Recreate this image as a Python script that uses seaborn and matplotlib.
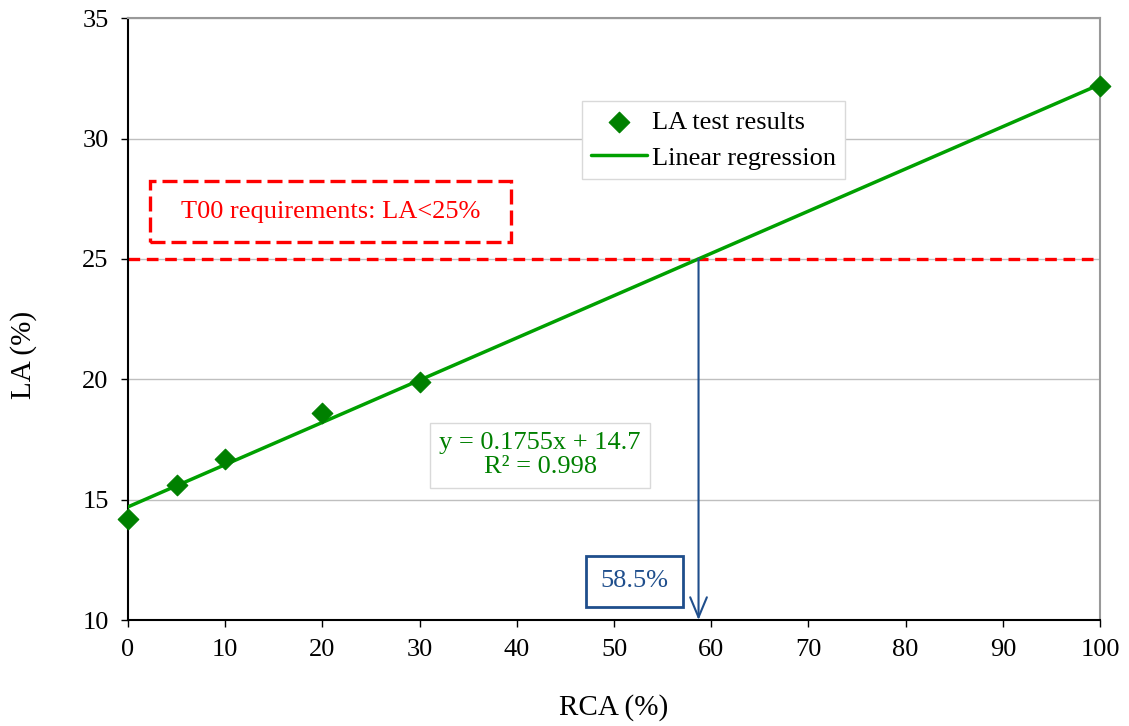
import numpy as np
import pandas as pd
import matplotlib
matplotlib.use('Agg')
import matplotlib.pyplot as plt
from matplotlib.patches import Rectangle
import seaborn as sns

# Data
rca = [0, 5, 10, 20, 30, 100]
la = [14.2, 15.6, 16.7, 18.6, 19.9, 32.2]
slope = 0.1755
intercept = 14.7
r2 = 0.998
la_limit = 25
rca_at_limit = 58.5
x_ticks = [0, 10, 20, 30, 40, 50, 60, 70, 80, 90, 100]
y_ticks = [10, 15, 20, 25, 30, 35]

sns.set_theme(style='white')
plt.rcParams['font.family'] = ['Liberation Serif', 'DejaVu Serif']
plt.rcParams['text.color'] = 'black'
plt.rcParams['axes.labelcolor'] = 'black'
plt.rcParams['xtick.color'] = 'black'
plt.rcParams['ytick.color'] = 'black'

green = '#008000'
line_green = '#00A000'
red = '#FF0000'
blue = '#1F4E8C'
fs = 19

fig = plt.figure(figsize=(11.29, 7.26), dpi=100)
ax = fig.add_axes([0.1134, 0.146, 0.861, 0.829])

for y in y_ticks:
    ax.axhline(y, color='#BFBFBF', lw=1, zorder=0)

# regression line
fit = pd.DataFrame({'x': [min(rca), max(rca)]})
fit['y'] = slope * fit['x'] + intercept
sns.lineplot(data=fit, x='x', y='y', ax=ax, color=line_green, lw=2.5,
             label='Linear regression', zorder=3)

pts = pd.DataFrame({'RCA': rca, 'LA': la})
sns.scatterplot(data=pts, x='RCA', y='LA', ax=ax, marker='D', s=110,
                color=green, edgecolor=green, label='LA test results',
                zorder=4, clip_on=False)

# requirement line and box
ax.axhline(la_limit, color=red, lw=2.4, ls=(0, (3.5, 2)), zorder=2)
ax.add_patch(Rectangle((2.26, 25.70), 37.14, 2.53, fill=False, ec=red, lw=2.4,
                       ls=(0, (4.5, 1.8)), zorder=5))
ax.text(20.8, 26.94, 'T00 requirements: LA<25%', color=red, fontsize=fs,
        ha='center', va='center', zorder=6)

# crossing arrow
x_cross = (la_limit - intercept) / slope
ax.annotate('', xy=(x_cross, 10), xytext=(x_cross, la_limit),
            arrowprops=dict(arrowstyle='->,head_length=1.2,head_width=0.5',
                            color=blue, lw=1.5, shrinkA=0, shrinkB=0), zorder=5)
ax.text(52.1, 11.6, f'{rca_at_limit}%', color=blue, fontsize=fs,
        ha='center', va='center',
        bbox=dict(boxstyle='square,pad=0.55', fc='white', ec=blue, lw=2))

ax.text(42.4, 16.85, f'y = {slope}x + {intercept}\nR² = {r2}', color=green,
        fontsize=fs, ha='center', va='center', linespacing=1.15,
        bbox=dict(boxstyle='square,pad=0.35', fc='white', ec='#D9D9D9', lw=1))

ax.set_xlim(0, 100)
ax.set_ylim(10, 35)
ax.set_xticks(x_ticks)
ax.set_yticks(y_ticks)
ax.tick_params(axis='both', labelsize=fs, direction='out', length=5, width=1,
               color='black', labelcolor='black', bottom=True, left=True, pad=9)
ax.set_xlabel('RCA (%)', fontsize=21, va='center')
ax.set_ylabel('LA (%)', fontsize=21, va='center')
ax.xaxis.set_label_coords(0.5, -0.145)
ax.yaxis.set_label_coords(-0.108, 0.44)
for s in ['top', 'right']:
    ax.spines[s].set_color('#999999')
    ax.spines[s].set_linewidth(1.5)
for s in ['left', 'bottom']:
    ax.spines[s].set_color('black')
    ax.spines[s].set_linewidth(1.5)

handles, labels = ax.get_legend_handles_labels()
order = [labels.index('LA test results'), labels.index('Linear regression')]
leg = ax.legend([handles[i] for i in order], [labels[i] for i in order],
                loc='center', bbox_to_anchor=(0.632, 0.807),
                bbox_transform=fig.transFigure, fontsize=fs, frameon=True,
                fancybox=False, edgecolor='#D9D9D9', framealpha=1,
                handlelength=2.1, handletextpad=0.2, borderpad=0.35,
                labelspacing=0.45)
leg.get_frame().set_linewidth(1)
for t in leg.get_texts():
    t.set_color('black')

fig.savefig('out.png', dpi=100)
